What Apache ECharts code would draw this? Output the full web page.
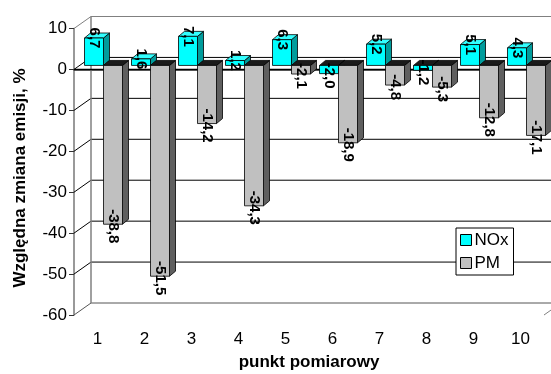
<!DOCTYPE html>
<html>
<head>
<meta charset="utf-8">
<script src="https://cdn.jsdelivr.net/npm/echarts@6/dist/echarts.min.js"></script>
<style>html,body{margin:0;padding:0;background:#fff}#c{width:551px;height:374px}</style>
</head>
<body>
<div id="c"></div>
<script>
const categories = ['1','2','3','4','5','6','7','8','9','10'];
const noxValues = [6.7, 1.6, 7.1, 1.2, 6.3, -2.0, 5.2, -1.2, 5.1, 4.3];
const pmValues = [-38.8, -51.5, -14.2, -34.3, -2.1, -18.9, -4.8, -5.3, -12.8, -17.1];
const yTicks = [10, 0, -10, -20, -30, -40, -50, -60];
const seriesNames = ['NOx', 'PM'];
const xTitle = 'punkt pomiarowy';
const yTitle = 'Względna zmiana emisji, %';

const FONT = "'Liberation Sans', Arial, sans-serif";
const DX = 17, DY = -12;      // wall depth
const BX = 6, BY = -4;        // bar front offset
const BDX = 6, BDY = -5;      // bar depth
const BW = 19;                // bar width

const chart = echarts.init(document.getElementById('c'), null, {renderer: 'canvas'});

function ln(x1, y1, x2, y2, c, w) {
  return {type: 'line', shape: {x1, y1, x2, y2}, style: {stroke: c, lineWidth: w || 1}, silent: true};
}

function renderFrame(params, api) {
  const cs = params.coordSys;
  const L = cs.x, R = cs.x + cs.width, B = cs.y + cs.height, T = cs.y;
  const ch = [];
  yTicks.forEach(t => {
    const y = api.coord([0, t])[1];
    const c = (t === 10) ? '#808080' : '#000';
    ch.push(ln(L + DX, y + DY, R + DX + 20, y + DY, t === -60 ? '#555' : c, 1));
    ch.push(ln(L, y, L + DX, y + DY, t === 10 ? '#808080' : (t === -60 ? '#555' : '#000'), 1));
  });
  ch.push(ln(L + DX, T + DY, L + DX, B + DY, '#808080', 1.5));
  ch.push(ln(R, B, R + DX, B + DY, '#808080', 1));
  const y0 = api.coord([0, 0])[1];
  ch.push(ln(L, y0, R, y0, '#000', 1.5));
  return {type: 'group', children: ch};
}

function makeBarRenderer(k) {
  return function (params, api) {
    const i = api.value(0), v = api.value(1);
    const c0 = api.coord([i, 0]);
    const c1 = api.coord([i, v]);
    const cx = c0[0] + BX;
    const x0 = k === 0 ? cx - BW : cx;
    const x1 = x0 + BW;
    const ya = c0[1] + BY, yb = c1[1] + BY;
    const yTop = Math.min(ya, yb), yBot = Math.max(ya, yb);
    const front = k === 0 ? '#00FFFF' : '#C0C0C0';
    const side = k === 0 ? '#009C9C' : '#5F5F5F';
    const top = v >= 0 ? (k === 0 ? '#33FFFF' : '#D8D8D8') : '#1A1A1A';
    const st = {stroke: '#000', lineWidth: 0.8};
    return {type: 'group', children: [
      {type: 'polygon', shape: {points: [[x1, yTop], [x1 + BDX, yTop + BDY], [x1 + BDX, yBot + BDY], [x1, yBot]]}, style: Object.assign({fill: side}, st)},
      {type: 'polygon', shape: {points: [[x0, yTop], [x0 + BDX, yTop + BDY], [x1 + BDX, yTop + BDY], [x1, yTop]]}, style: Object.assign({fill: top}, st)},
      {type: 'rect', shape: {x: x0, y: yTop, width: BW, height: yBot - yTop}, style: Object.assign({fill: front}, st)}
    ]};
  };
}

function makeLabelRenderer(k) {
  return function (params, api) {
    const i = api.value(0), v = api.value(1);
    const c0 = api.coord([i, 0]);
    const c1 = api.coord([i, v]);
    const cx = c0[0] + BX;
    const x0 = k === 0 ? cx - BW : cx;
    const xm = x0 + BW / 2;
    const y = c1[1] + BY + (v < 0 ? 2 : 0);
    return {type: 'text', x: xm, y: y, rotation: -Math.PI / 2,
      style: {text: v.toFixed(1).replace('.', ','), font: 'bold 15px ' + FONT, fill: '#000', align: 'center', verticalAlign: 'middle'}};
  };
}

const noxData = noxValues.map((v, i) => [i, v]);
const pmData = pmValues.map((v, i) => [i, v]);

chart.setOption({
  animation: false,
  backgroundColor: '#fff',
  textStyle: {fontFamily: FONT},
  grid: [{left: 74, top: 28.5, width: 470, height: 286.5}],
  xAxis: [{type: 'category', data: categories, boundaryGap: true,
    axisLine: {lineStyle: {color: '#444', width: 1.5}},
    axisTick: {length: 5, lineStyle: {color: '#444'}},
    axisLabel: {fontSize: 17, color: '#000', margin: 16, fontFamily: FONT},
    splitLine: {show: false}}],
  yAxis: [{type: 'value', min: -60, max: 10, interval: 10,
    axisLine: {show: true, lineStyle: {color: '#777', width: 1.5}},
    axisTick: {show: true, length: 5, lineStyle: {color: '#333'}},
    axisLabel: {fontSize: 17, color: '#000', margin: 7, fontFamily: FONT},
    splitLine: {show: false}}],
  legend: {orient: 'vertical', left: 456, top: 228, data: seriesNames,
    padding: [2, 5, 2, 4], itemGap: 3, itemWidth: 11, itemHeight: 11, icon: 'rect',
    backgroundColor: '#fff', borderColor: '#000', borderWidth: 1,
    textStyle: {fontSize: 17, color: '#000', fontFamily: FONT, lineHeight: 20, padding: [0, 0, 0, -2]},
    itemStyle: {borderColor: '#000', borderWidth: 1}},
  graphic: [
    {type: 'text', x: 309, y: 362, style: {text: xTitle, font: 'bold 17px ' + FONT, fill: '#000', align: 'center', verticalAlign: 'middle'}},
    {type: 'text', x: 20, y: 178, rotation: Math.PI / 2, style: {text: yTitle, font: 'bold 17px ' + FONT, fill: '#000', align: 'center', verticalAlign: 'middle'}}
  ],
  series: [
    {type: 'custom', name: 'frame', data: [[0, 0]], renderItem: renderFrame, z: 1, silent: true, legendHoverLink: false},
    {type: 'custom', name: 'NOx', data: noxData, renderItem: makeBarRenderer(0), z: 2,
      itemStyle: {color: '#00FFFF', borderColor: '#000', borderWidth: 1}},
    {type: 'custom', name: 'PM', data: pmData, renderItem: makeBarRenderer(1), z: 3,
      itemStyle: {color: '#C0C0C0', borderColor: '#000', borderWidth: 1}},
    {type: 'custom', name: 'NOxL', data: noxData, renderItem: makeLabelRenderer(0), z: 5, silent: true},
    {type: 'custom', name: 'PML', data: pmData, renderItem: makeLabelRenderer(1), z: 5, silent: true}
  ]
});
</script>
</body>
</html>
